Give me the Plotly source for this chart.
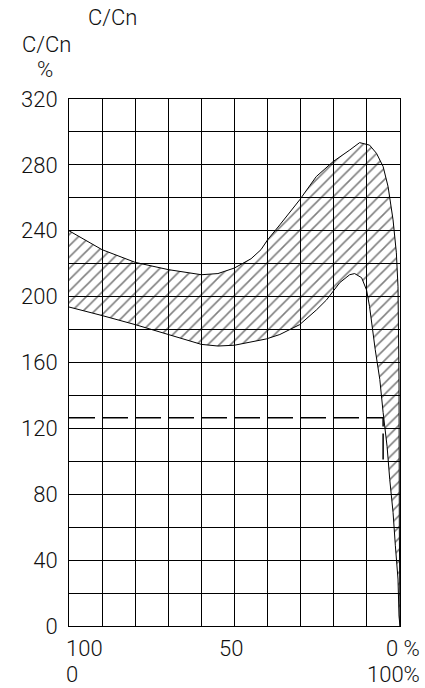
import plotly.graph_objects as go

# Upper envelope of the C/Cn band (x = % position, reversed axis 100 -> 0)
upper_x = [100, 90, 80, 70, 60, 55, 50, 45, 42, 40, 36.3, 30.3, 25.3, 20.2,
           15.2, 12.2, 9.2, 7.1, 5.1, 3.6, 2.1, 1.1, 0.6, 0.3, 0.2, 0]
upper_y = [240, 228.5, 220.8, 216.4, 213.3, 214, 217.4, 223, 228.5, 234.5, 243.6,
           258.8, 272.9, 282, 289, 293.5, 292, 287, 279, 266.8, 246.6, 226.6,
           206, 150, 60, 0]

# Lower envelope of the band
lower_x = [100, 90, 80, 70, 60, 55, 50, 40.4, 36.3, 30.3, 25.2, 22.2, 18.2, 15.2,
           13.7, 11.6, 10.1, 9.2, 8.6, 7.5, 6.1, 5.1, 3.9, 3.1, 2.1, 1.4, 0.6, 0.3, 0]
lower_y = [193.7, 188.5, 183, 177, 171, 170, 170.5, 174.3, 177, 183, 192, 198, 208.5,
           213.3, 214, 211.5, 204, 194, 186, 168, 149.7, 129.7, 109, 89, 69, 48.7,
           28.5, 6, 0]

# Dashed reference level
ref_x = [100, 5.1, 5.1]
ref_y = [126.5, 126.5, 100]

y_ticks = [0, 40, 80, 120, 160, 200, 240, 280, 320]
x_grid = [0, 10, 20, 30, 40, 50, 60, 70, 80, 90, 100]

FONT = "Roboto"
WEIGHT = 300
TXT = "#111111"

band_x = upper_x + lower_x[::-1]
band_y = upper_y + lower_y[::-1]

fig = go.Figure()
fig.add_trace(go.Scatter(
    x=band_x, y=band_y, mode="lines", fill="toself",
    fillcolor="rgba(0,0,0,0)",
    fillpattern=dict(shape="/", fgcolor="black", bgcolor="rgba(0,0,0,0)",
                     size=8, solidity=0.2),
    line=dict(color="black", width=1), hoverinfo="skip", showlegend=False,
))
fig.add_trace(go.Scatter(
    x=ref_x, y=ref_y, mode="lines",
    line=dict(color="black", width=1.5, dash="26px,7px"),
    hoverinfo="skip", showlegend=False,
))

fig.update_layout(
    width=425, height=688,
    margin=dict(l=69, r=25, t=99, b=62),
    paper_bgcolor="white", plot_bgcolor="white",
    font=dict(family=FONT, size=22, color=TXT, weight=WEIGHT),
    xaxis=dict(range=[100, 0], tickvals=x_grid, showticklabels=False,
               showgrid=True, gridcolor="black", gridwidth=1, zeroline=False,
               showline=True, linecolor="black", linewidth=1, mirror=True),
    yaxis=dict(range=[0, 320], tickvals=y_ticks, ticktext=[str(v) for v in y_ticks],
               showgrid=True, gridcolor="black", gridwidth=1, zeroline=False,
               minor=dict(dtick=20, showgrid=True, gridcolor="black", gridwidth=1),
               showline=True, linecolor="black", linewidth=1, mirror=True,
               ticks="", ticklabelstandoff=6,
               tickfont=dict(family=FONT, size=22, color=TXT, weight=WEIGHT)),
)


def px2paper(px, py):
    return (px - 69) / 331, (626 - py) / 527


labels = [
    ("C/Cn", 112, 17, "center"),
    ("C/Cn", 46, 45, "center"),
    ("%", 45, 69, "center"),
    ("100", 64, 648, "left"),
    ("0", 64, 674, "left"),
    ("50", 231, 648, "center"),
    ("0 %", 422, 648, "right"),
    ("100%", 422, 674, "right"),
]
for text, px, py, anchor in labels:
    xp, yp = px2paper(px, py)
    fig.add_annotation(text=text, x=xp, y=yp, xref="paper", yref="paper",
                       xanchor=anchor, yanchor="middle", showarrow=False,
                       font=dict(family=FONT, size=22, color=TXT, weight=WEIGHT))

fig.write_html("out.html")
